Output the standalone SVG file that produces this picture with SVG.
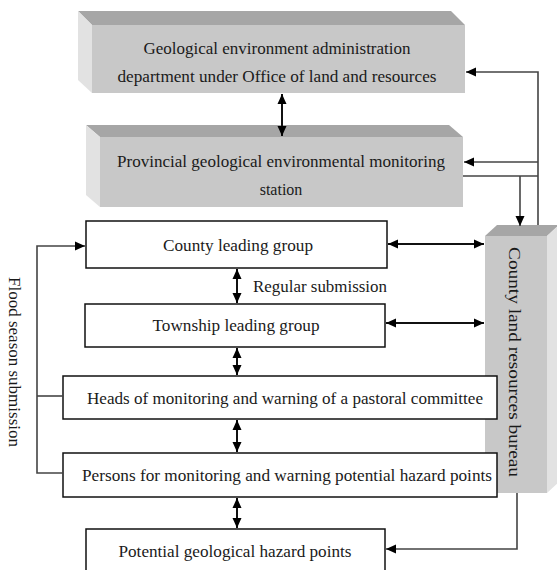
<svg xmlns="http://www.w3.org/2000/svg" width="557" height="570" viewBox="0 0 557 570">
<style>
.t{font-family:"Liberation Serif","Times New Roman",serif;font-size:16px;fill:#1a1a1a;text-anchor:middle}
.box{fill:#fff;stroke:#111;stroke-width:1.5}
.front{fill:#c8c8c8}
.top{fill:#a6a6a6}
.side{fill:#e2e2e2}
.c{fill:none;stroke:#111;stroke-width:2}
.g{fill:none;stroke:#444;stroke-width:1.6}
</style>
<defs>
<marker id="ah" viewBox="0 0 10 10" refX="10" refY="5" markerWidth="10" markerHeight="10" markerUnits="userSpaceOnUse" orient="auto-start-reverse">
<path d="M0,0.5 L10,5 L0,9.5 z" fill="#000"/>
</marker>
</defs>
<rect width="557" height="570" fill="#fff"/>
<g id="admin">
<polygon class="top" points="78,11 451,11 465,25 92,25"/>
<polygon class="side" points="78,11 92,25 92,93 78,80"/>
<rect class="front" x="92" y="25" width="373" height="68"/>
<text class="t" x="277" y="54" textLength="267" lengthAdjust="spacingAndGlyphs">Geological environment administration</text>
<text class="t" x="277" y="82" textLength="319" lengthAdjust="spacingAndGlyphs">department under Office of land and resources</text>
</g>
<g id="provincial">
<polygon class="top" points="86,125 449,125 463,137 100,137"/>
<polygon class="side" points="86,125 100,137 100,207 86,195"/>
<rect class="front" x="100" y="137" width="363" height="70"/>
<text class="t" x="281" y="167" textLength="328" lengthAdjust="spacingAndGlyphs">Provincial geological  environmental  monitoring</text>
<text class="t" x="281" y="195">station</text>
</g>
<g id="bureau">
<polygon class="top" points="485,236 547,236 559,225 497,225"/>
<polygon class="side" points="547,236 559,225 559,482 547,493"/>
<rect class="front" x="485" y="236" width="62" height="257"/>
<text class="t" transform="translate(509,362) rotate(90)" x="0" y="0" style="font-size:17px" textLength="230" lengthAdjust="spacingAndGlyphs">County land resources bureau</text>
</g>
<g id="county">
<rect class="box" x="86" y="221" width="301" height="47"/>
<text class="t" x="238" y="251" textLength="150" lengthAdjust="spacingAndGlyphs">County leading group</text>
</g>
<g id="township">
<rect class="box" x="85" y="304" width="300" height="43"/>
<text class="t" x="236" y="331" textLength="167" lengthAdjust="spacingAndGlyphs">Township leading group</text>
</g>
<g id="heads">
<rect class="box" x="63" y="376" width="434" height="43"/>
<text class="t" x="285" y="404" textLength="396" lengthAdjust="spacingAndGlyphs">Heads of monitoring and warning of a pastoral committee</text>
</g>
<g id="persons">
<rect class="box" x="63" y="453" width="434" height="44"/>
<text class="t" x="287" y="481" textLength="410" lengthAdjust="spacingAndGlyphs">Persons for monitoring and warning potential  hazard points</text>
</g>
<g id="potential">
<rect class="box" x="86" y="529" width="299" height="46"/>
<text class="t" x="235" y="557" textLength="233" lengthAdjust="spacingAndGlyphs">Potential geological  hazard points</text>
</g>
<g id="connectors">
<line class="c" x1="282" y1="94" x2="282" y2="136" marker-start="url(#ah)" marker-end="url(#ah)"/>
<path class="g" d="M538,225 V72 H466" marker-end="url(#ah)"/>
<path class="g" d="M538,162 H464" marker-end="url(#ah)"/>
<path class="g" d="M463,176 H538"/>
<path class="g" d="M520,176 V226" marker-end="url(#ah)"/>
<line class="c" x1="388" y1="244" x2="484" y2="244" marker-start="url(#ah)" marker-end="url(#ah)"/>
<line class="c" x1="237" y1="269" x2="237" y2="303" marker-start="url(#ah)" marker-end="url(#ah)"/>
<line class="c" x1="386" y1="323" x2="484" y2="323" marker-start="url(#ah)" marker-end="url(#ah)"/>
<line class="c" x1="237" y1="348" x2="237" y2="375" marker-start="url(#ah)" marker-end="url(#ah)"/>
<line class="c" x1="237" y1="420" x2="237" y2="452" marker-start="url(#ah)" marker-end="url(#ah)"/>
<line class="c" x1="237" y1="498" x2="237" y2="528" marker-start="url(#ah)" marker-end="url(#ah)"/>
<path class="g" d="M517,493 V549 H386" marker-end="url(#ah)"/>
<path class="g" d="M63,473 H37 V246 H85" marker-end="url(#ah)"/>
<path class="g" d="M37,396 H63"/>
<text class="t" transform="translate(9,362) rotate(90)" x="0" y="0" textLength="170" lengthAdjust="spacingAndGlyphs">Flood season submission</text>
<text class="t" x="320" y="292" textLength="134" lengthAdjust="spacingAndGlyphs">Regular submission</text>
</g>
</svg>
